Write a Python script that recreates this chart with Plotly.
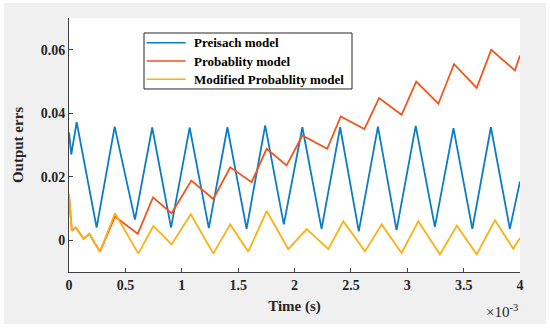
import plotly.graph_objects as go

# ---- data (time in ms) ----
t_preisach = [0, 0.02, 0.068, 0.245, 0.405, 0.585, 0.738, 0.905, 1.07, 1.24, 1.405,
              1.575, 1.74, 1.905, 2.07, 2.24, 2.405, 2.57, 2.74, 2.905, 3.075, 3.245,
              3.41, 3.577, 3.742, 3.91, 4.0]
preisach = [0.034, 0.027, 0.0372, 0.004, 0.0358, 0.0065, 0.0355, 0.004, 0.0355, 0.0038,
            0.0356, 0.0036, 0.0362, 0.005, 0.0356, 0.0036, 0.0356, 0.0028, 0.0358, 0.0032,
            0.036, 0.0042, 0.0353, 0.0036, 0.0356, 0.0036, 0.0185]

t_prob = [0, 0.025, 0.06, 0.13, 0.18, 0.275, 0.408, 0.61, 0.745, 0.91, 1.085, 1.28,
          1.43, 1.62, 1.753, 1.93, 2.07, 2.29, 2.41, 2.62, 2.75, 2.95, 3.08, 3.276,
          3.415, 3.616, 3.745, 3.955, 4.0]
prob = [0.0145, 0.003, 0.004, 0.0005, 0.002, -0.0036, 0.0075, 0.002, 0.0135, 0.0085,
        0.0188, 0.013, 0.023, 0.0183, 0.0288, 0.0236, 0.033, 0.0288, 0.039, 0.035,
        0.0448, 0.0395, 0.05, 0.043, 0.0555, 0.048, 0.0600, 0.0535, 0.0582]

t_mod = [0, 0.025, 0.06, 0.13, 0.18, 0.275, 0.408, 0.615, 0.748, 0.91, 1.08, 1.28,
         1.43, 1.59, 1.753, 1.945, 2.108, 2.30, 2.433, 2.625, 2.773, 2.95, 3.098,
         3.29, 3.44, 3.616, 3.778, 3.94, 4.0]
modified = [0.0145, 0.003, 0.004, 0.0005, 0.002, -0.0036, 0.0085, -0.0042, 0.0045,
            -0.0013, 0.0082, -0.0042, 0.005, -0.0036, 0.0092, -0.0028, 0.0035, -0.0028,
            0.006, -0.0035, 0.005, -0.004, 0.006, -0.0045, 0.0046, -0.0044, 0.0063,
            -0.0027, 0.0007]

series_names = ["Preisach model", "Probablity model", "Modified Probablity model"]
series_colors = ["#0b7dc4", "#f2551b", "#fcb112"]

x_tick_ms = [0, 0.5, 1, 1.5, 2, 2.5, 3, 3.5, 4]
x_tick_text = ["0", "0.5", "1", "1.5", "2", "2.5", "3", "3.5", "4"]
y_ticks = [0, 0.02, 0.04, 0.06]
y_tick_text = ["0", "0.02", "0.04", "0.06"]

SCALE = 1e-3
SERIF = "Liberation Serif"
DARK = "#262626"

fig = go.Figure()
for name, t, v, col in zip(series_names, [t_preisach, t_prob, t_mod],
                           [preisach, prob, modified], series_colors):
    fig.add_trace(go.Scatter(x=[ti * SCALE for ti in t], y=v, mode="lines", name=name,
                             line=dict(color=col, width=1.8)))

fig.update_layout(
    width=542, height=321,
    margin=dict(l=65, r=26, t=15, b=52, autoexpand=False),
    paper_bgcolor="#f0f0f0", plot_bgcolor="white",
    font=dict(family=SERIF, color=DARK, size=14),
    showlegend=False,
)
fig.update_xaxes(
    range=[0, 4 * SCALE], tickmode="array",
    tickvals=[v * SCALE for v in x_tick_ms], ticktext=x_tick_text,
    ticks="inside", ticklen=4, tickcolor="#404040",
    showline=True, linecolor="#404040", linewidth=1,
    showgrid=False, zeroline=False, mirror=False,
    tickfont=dict(family=SERIF, size=14, color=DARK, weight="bold"),
    title=dict(text="Time (s)", standoff=8,
               font=dict(family=SERIF, size=15, color=DARK, weight="bold")),
)
fig.update_yaxes(
    range=[-0.01, 0.07], tickmode="array", tickvals=y_ticks, ticktext=y_tick_text,
    ticks="inside", ticklen=4, tickcolor="#404040",
    showline=True, linecolor="#404040", linewidth=1,
    showgrid=False, zeroline=False, mirror=False,
    tickfont=dict(family=SERIF, size=14, color=DARK, weight="bold"),
    title=dict(text="Output errs", standoff=13,
               font=dict(family=SERIF, size=15, color=DARK, weight="bold")),
)
fig.add_annotation(text="×10<sup>-3</sup>", xref="paper", yref="paper",
                   x=1.0, y=-0.1535, xanchor="right", yanchor="middle",
                   showarrow=False, font=dict(family=SERIF, size=15, color=DARK))

# ---- legend box drawn by hand (MATLAB-style) ----
fig.add_shape(type="rect", xref="paper", yref="paper",
              x0=0.1663, x1=0.6275, y0=0.7205, y1=0.9409,
              line=dict(color=DARK, width=1), fillcolor="white", layer="above")
row_y = [0.9028, 0.8307, 0.7587]
for name, col, yy in zip(series_names, series_colors, row_y):
    fig.add_shape(type="line", xref="paper", yref="paper",
                  x0=0.1723, x1=0.2588, y0=yy, y1=yy,
                  line=dict(color=col, width=1.5), layer="above")
    fig.add_annotation(text=name, xref="paper", yref="paper", x=0.2734, y=yy,
                       xanchor="left", yanchor="middle", showarrow=False,
                       font=dict(family=SERIF, size=13, color="black", weight="bold"))

fig.write_html("out.html", post_script="document.body.style.margin='3px 0 0 4px';")
